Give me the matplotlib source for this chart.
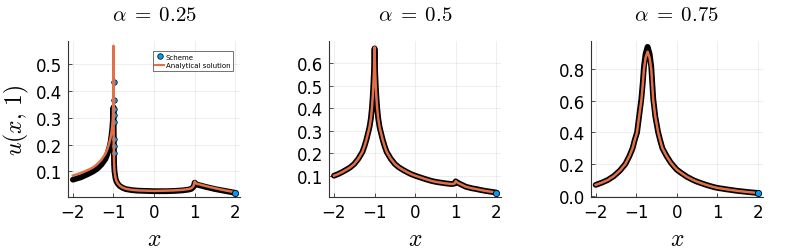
import matplotlib
matplotlib.use('Agg')
import matplotlib.pyplot as plt
from matplotlib.lines import Line2D

plt.rcParams['font.family'] = ['DejaVu Sans']
plt.rcParams['mathtext.fontset'] = 'cm'

BLUE = '#009AFA'
ORANGE = '#E26F46'

titles = [r'$\alpha\;=\;0.25$', r'$\alpha\;=\;0.5$', r'$\alpha\;=\;0.75$']

# ---- alpha = 0.25 ----
x_exact1 = [-2, -1.8, -1.6, -1.5, -1.4, -1.3, -1.2, -1.15, -1.1, -1.07, -1.05, -1.03, -1.015, -1.005, -1.0,
            -0.995, -0.985, -0.975, -0.95, -0.93, -0.9, -0.85, -0.78, -0.7, -0.55, -0.4, -0.2, 0, 0.3, 0.5,
            0.7, 0.85, 0.92, 0.97, 0.99, 1.0, 1.02, 1.05, 1.15, 1.25, 1.5, 1.75, 2]
u_exact1 = [0.084, 0.094, 0.107, 0.115, 0.127, 0.143, 0.165, 0.183, 0.208, 0.227, 0.245, 0.27, 0.3, 0.37, 0.568,
            0.2, 0.13, 0.1, 0.075, 0.065, 0.056, 0.047, 0.04, 0.035, 0.031, 0.029, 0.028, 0.027, 0.028, 0.029,
            0.031, 0.034, 0.037, 0.045, 0.055, 0.062, 0.057, 0.054, 0.05, 0.046, 0.037, 0.029, 0.022]
x_scheme1 = [-2, -1.8, -1.6, -1.5, -1.4, -1.3, -1.2, -1.15, -1.1, -1.07, -1.05, -1.03, -1.015, -1.0,
             -0.99, -0.985, -0.975, -0.95, -0.93, -0.9, -0.85, -0.78, -0.7, -0.55, -0.4, -0.2, 0, 0.3, 0.5,
             0.7, 0.85, 0.92, 0.97, 0.99, 1.0, 1.02, 1.05, 1.15, 1.25, 1.5, 1.75, 2]
u_scheme1 = [0.069, 0.078, 0.092, 0.1, 0.11, 0.125, 0.146, 0.165, 0.19, 0.21, 0.233, 0.26, 0.29, 0.339,
             0.17, 0.125, 0.1, 0.074, 0.064, 0.055, 0.046, 0.039, 0.034, 0.03, 0.028, 0.027, 0.026, 0.026, 0.027,
             0.029, 0.032, 0.035, 0.042, 0.051, 0.058, 0.054, 0.051, 0.047, 0.043, 0.034, 0.027, 0.02]
# isolated scheme nodes at the singularity
x_nodes1 = [-0.99, -0.99, -0.99, -0.99, -0.99, -0.99, -0.99, -0.99]
u_nodes1 = [0.434, 0.366, 0.333, 0.31, 0.283, 0.221, 0.196, 0.17]

# ---- alpha = 0.5 ----
x_exact2 = [-2, -1.9, -1.8, -1.7, -1.6, -1.5, -1.4, -1.3, -1.25, -1.2, -1.145, -1.12, -1.09, -1.065, -1.045,
            -1.03, -1.015, -1.0, -0.985, -0.97, -0.955, -0.935, -0.91, -0.88, -0.855, -0.8, -0.75, -0.7,
            -0.6, -0.5, -0.4, -0.3, -0.2, -0.1, 0, 0.1, 0.25, 0.4, 0.5, 0.6, 0.75, 0.9, 0.97, 1.0, 1.03,
            1.1, 1.25, 1.4, 1.5, 1.6, 1.75, 1.9, 2]
u_exact2 = [0.10, 0.107, 0.116, 0.126, 0.137, 0.152, 0.175, 0.205, 0.23, 0.26, 0.3, 0.32, 0.355, 0.4, 0.45,
            0.5, 0.56, 0.67, 0.56, 0.5, 0.45, 0.4, 0.355, 0.32, 0.3, 0.26, 0.23, 0.205,
            0.175, 0.152, 0.137, 0.126, 0.116, 0.107, 0.10, 0.094, 0.085, 0.077, 0.073, 0.07, 0.066, 0.063, 0.065, 0.076, 0.071,
            0.064, 0.051, 0.044, 0.041, 0.037, 0.032, 0.028, 0.025]
x_scheme2 = x_exact2
u_scheme2 = [0.10, 0.107, 0.116, 0.126, 0.137, 0.152, 0.175, 0.205, 0.23, 0.26, 0.3, 0.32, 0.355, 0.4, 0.45,
             0.5, 0.56, 0.665, 0.56, 0.5, 0.45, 0.4, 0.355, 0.32, 0.3, 0.26, 0.23, 0.205,
             0.175, 0.152, 0.137, 0.126, 0.116, 0.107, 0.10, 0.094, 0.085, 0.077, 0.073, 0.07, 0.066, 0.063, 0.065, 0.075, 0.071,
             0.064, 0.051, 0.044, 0.041, 0.037, 0.032, 0.028, 0.025]

# ---- alpha = 0.75 ----
x_exact3 = [-2, -1.85, -1.7, -1.55, -1.4, -1.27, -1.17, -1.09, -1.04, -0.98, -0.93, -0.875, -0.84, -0.81,
            -0.77, -0.72, -0.67, -0.63, -0.605, -0.58, -0.53, -0.46, -0.41, -0.355, -0.25, -0.15, -0.07, 0,
            0.1, 0.25, 0.4, 0.5, 0.6, 0.75, 0.9, 1, 1.25, 1.5, 1.75, 2]
u_exact3 = [0.069, 0.083, 0.1, 0.125, 0.16, 0.2, 0.25, 0.3, 0.35, 0.4, 0.5, 0.6, 0.7, 0.8,
            0.87, 0.91, 0.87, 0.8, 0.7, 0.6, 0.5, 0.4, 0.35, 0.3, 0.25, 0.21, 0.185, 0.165,
            0.146, 0.12, 0.1, 0.089, 0.08, 0.067, 0.056, 0.05, 0.04, 0.031, 0.024, 0.018]
x_scheme3 = x_exact3
u_scheme3 = [0.069, 0.083, 0.1, 0.125, 0.16, 0.2, 0.25, 0.3, 0.35, 0.4, 0.5, 0.61, 0.71, 0.815,
             0.895, 0.94, 0.895, 0.815, 0.71, 0.61, 0.5, 0.4, 0.35, 0.3, 0.25, 0.21, 0.185, 0.165,
             0.146, 0.12, 0.1, 0.089, 0.08, 0.067, 0.056, 0.05, 0.04, 0.031, 0.024, 0.018]

yticks = [[0.1, 0.2, 0.3, 0.4, 0.5],
          [0.1, 0.2, 0.3, 0.4, 0.5, 0.6],
          [0.0, 0.2, 0.4, 0.6, 0.8]]
ylims = [(0.004, 0.586), (0.005, 0.698), (-0.008, 0.977)]

fig = plt.figure(figsize=(7.93, 2.53), dpi=100)
lefts = [0.0858, 0.415, 0.745]
axes = [fig.add_axes([l, 0.217, 0.217, 0.617]) for l in lefts]

data = [
    (x_exact1, u_exact1, x_scheme1, u_scheme1),
    (x_exact2, u_exact2, x_scheme2, u_scheme2),
    (x_exact3, u_exact3, x_scheme3, u_scheme3),
]

for i, (ax, (xe, ue, xs, us)) in enumerate(zip(axes, data)):
    ax.plot(xs, us, color='black', lw=4.2, solid_capstyle='round', solid_joinstyle='round', zorder=3)
    ax.plot(xs[-1:], us[-1:], 'o', ms=4.5, mfc=BLUE, mec='black', mew=0.6, zorder=5)
    ax.plot(xe, ue, color=ORANGE, lw=1.8, zorder=4, solid_joinstyle='round')
    if i == 0:
        ax.plot(x_nodes1, u_nodes1, 'o', ms=4, mfc=BLUE, mec='black', mew=0.5, zorder=3.5)
    ax.set_xlim(-2.12, 2.12)
    ax.set_ylim(*ylims[i])
    ax.set_xticks([-2, -1, 0, 1, 2])
    ax.set_yticks(yticks[i])
    ax.set_yticklabels([f'{v:.1f}' for v in yticks[i]])
    ax.grid(True, color='black', alpha=0.08, lw=0.6)
    for s in ['top', 'right']:
        ax.spines[s].set_visible(False)
    for s in ['left', 'bottom']:
        ax.spines[s].set_color('#333333')
        ax.spines[s].set_linewidth(0.8)
    ax.tick_params(direction='in', length=3, width=0.6, color='#333333', labelsize=12, pad=4)
    ax.set_title(titles[i], fontsize=15, pad=15)
    ax.set_xlabel(r'$x$', fontsize=17, labelpad=4)

axes[0].set_ylabel(r'$u(x,\,1)$', fontsize=17, labelpad=4)

handles = [
    Line2D([], [], marker='o', ls='none', ms=4, mfc=BLUE, mec='black', mew=0.5),
    Line2D([], [], color=ORANGE, lw=1.5),
]
leg = axes[0].legend(handles, ['Scheme', 'Analytical solution'], loc='upper right',
                     bbox_to_anchor=(0.96, 0.935), fontsize=5, frameon=True, fancybox=False,
                     edgecolor='#333333', handlelength=1.3, handletextpad=0.2, borderpad=0.4,
                     labelspacing=0.3, borderaxespad=0)
leg.get_frame().set_linewidth(0.6)

plt.savefig('out.png', dpi=100)
